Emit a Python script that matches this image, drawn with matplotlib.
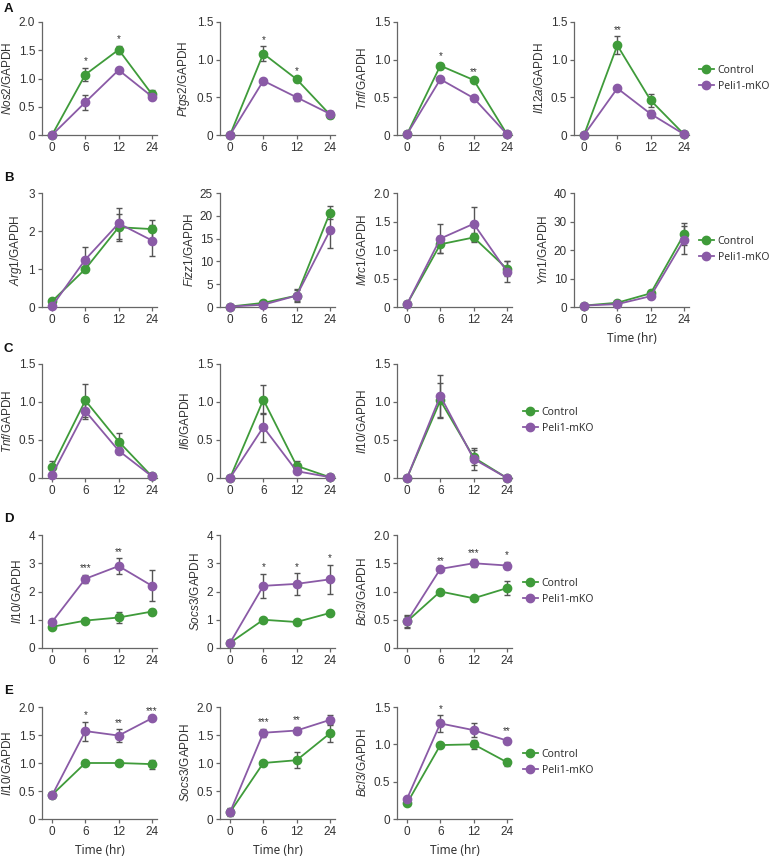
import matplotlib
matplotlib.use('Agg')
import matplotlib.pyplot as plt
from matplotlib.lines import Line2D
from matplotlib.ticker import FixedLocator, FuncFormatter

plt.rcParams['font.family'] = ['Liberation Sans', 'DejaVu Sans']
plt.rcParams['mathtext.fontset'] = 'custom'
plt.rcParams['mathtext.it'] = 'Liberation Sans:italic'
plt.rcParams['mathtext.rm'] = 'Liberation Sans'

# ---------------- data ----------------
times = ['0', '6', '12', '24']
series_names = ['Control', 'Peli1-mKO']
panel_letters = ['A', 'B', 'C', 'D', 'E']

# Row A
nos2_ctrl = [0.0, 1.07, 1.51, 0.72]; nos2_ctrl_err = [0, 0.12, 0.07, 0.07]
nos2_ko = [0.0, 0.58, 1.15, 0.68]; nos2_ko_err = [0, 0.13, 0.02, 0.05]
nos2_stars = {1: '*', 2: '*'}

ptgs2_ctrl = [0.0, 1.08, 0.74, 0.27]; ptgs2_ctrl_err = [0, 0.10, 0.03, 0.05]
ptgs2_ko = [0.0, 0.72, 0.50, 0.28]; ptgs2_ko_err = [0, 0.02, 0.05, 0.04]
ptgs2_stars = {1: '*', 2: '*'}

tnfA_ctrl = [0.01, 0.92, 0.73, 0.01]; tnfA_ctrl_err = [0, 0.04, 0.02, 0]
tnfA_ko = [0.01, 0.74, 0.49, 0.01]; tnfA_ko_err = [0, 0.02, 0.03, 0]
tnfA_stars = {1: '*', 2: '**'}

il12a_ctrl = [0.0, 1.19, 0.46, 0.01]; il12a_ctrl_err = [0, 0.12, 0.09, 0]
il12a_ko = [0.0, 0.62, 0.28, 0.01]; il12a_ko_err = [0, 0.02, 0.05, 0]
il12a_stars = {1: '**'}

# Row B
arg1_ctrl = [0.15, 1.0, 2.1, 2.05]; arg1_ctrl_err = [0.02, 0.05, 0.35, 0.25]
arg1_ko = [0.02, 1.25, 2.2, 1.75]; arg1_ko_err = [0, 0.32, 0.40, 0.40]

fizz1_ctrl = [0.1, 0.9, 2.5, 20.7]; fizz1_ctrl_err = [0, 0.3, 1.5, 1.5]
fizz1_ko = [0.1, 0.5, 2.5, 16.8]; fizz1_ko_err = [0, 0.3, 1.2, 3.9]

mrc1_ctrl = [0.05, 1.10, 1.22, 0.67]; mrc1_ctrl_err = [0, 0.15, 0.08, 0.13]
mrc1_ko = [0.05, 1.20, 1.46, 0.62]; mrc1_ko_err = [0, 0.25, 0.30, 0.18]

ym1_ctrl = [0.5, 1.5, 4.8, 25.5]; ym1_ctrl_err = [0, 0.5, 1.2, 3.8]
ym1_ko = [0.5, 1.0, 3.8, 23.5]; ym1_ko_err = [0, 0.4, 0.5, 5.0]

# Row C
tnfC_ctrl = [0.14, 1.02, 0.48, 0.02]; tnfC_ctrl_err = [0.09, 0.22, 0.11, 0]
tnfC_ko = [0.04, 0.88, 0.36, 0.02]; tnfC_ko_err = [0.02, 0.10, 0.05, 0]

il6_ctrl = [0.0, 1.03, 0.16, 0.01]; il6_ctrl_err = [0, 0.19, 0.06, 0]
il6_ko = [0.0, 0.67, 0.09, 0.01]; il6_ko_err = [0, 0.19, 0.02, 0]

il10C_ctrl = [0.0, 1.02, 0.27, 0.0]; il10C_ctrl_err = [0, 0.23, 0.10, 0]
il10C_ko = [0.0, 1.08, 0.25, 0.0]; il10C_ko_err = [0, 0.28, 0.14, 0]

# Row D
il10D_ctrl = [0.75, 0.97, 1.08, 1.29]; il10D_ctrl_err = [0.05, 0.05, 0.20, 0.10]
il10D_ko = [0.92, 2.45, 2.90, 2.20]; il10D_ko_err = [0.10, 0.15, 0.28, 0.55]
il10D_stars = {1: '***', 2: '**'}

socs3D_ctrl = [0.18, 1.0, 0.92, 1.24]; socs3D_ctrl_err = [0, 0.03, 0.03, 0.03]
socs3D_ko = [0.18, 2.20, 2.27, 2.43]; socs3D_ko_err = [0.05, 0.43, 0.38, 0.52]
socs3D_stars = {1: '*', 2: '*', 3: '*'}

bcl3D_ctrl = [0.47, 1.0, 0.88, 1.06]; bcl3D_ctrl_err = [0.10, 0.02, 0.02, 0.13]
bcl3D_ko = [0.47, 1.40, 1.50, 1.46]; bcl3D_ko_err = [0.12, 0.02, 0.07, 0.07]
bcl3D_stars = {1: '**', 2: '***', 3: '*'}

# Row E
il10E_ctrl = [0.43, 1.0, 1.0, 0.98]; il10E_ctrl_err = [0.05, 0.02, 0.02, 0.08]
il10E_ko = [0.42, 1.57, 1.49, 1.80]; il10E_ko_err = [0.03, 0.17, 0.11, 0.02]
il10E_stars = {1: '*', 2: '**', 3: '***'}

socs3E_ctrl = [0.12, 1.0, 1.05, 1.53]; socs3E_ctrl_err = [0.07, 0.02, 0.14, 0.15]
socs3E_ko = [0.12, 1.54, 1.58, 1.77]; socs3E_ko_err = [0.05, 0.07, 0.07, 0.08]
socs3E_stars = {1: '***', 2: '**'}

bcl3E_ctrl = [0.21, 0.99, 1.0, 0.76]; bcl3E_ctrl_err = [0, 0.02, 0.06, 0.05]
bcl3E_ko = [0.27, 1.28, 1.19, 1.05]; bcl3E_ko_err = [0, 0.11, 0.09, 0.04]
bcl3E_stars = {1: '*', 3: '**'}

# (row, col, gene, ctrl, ctrl_err, ko, ko_err, ymax, ystep, stars)
panels = [
    (0, 0, 'Nos2', nos2_ctrl, nos2_ctrl_err, nos2_ko, nos2_ko_err, 2.0, 0.5, nos2_stars),
    (0, 1, 'Ptgs2', ptgs2_ctrl, ptgs2_ctrl_err, ptgs2_ko, ptgs2_ko_err, 1.5, 0.5, ptgs2_stars),
    (0, 2, 'Tnf', tnfA_ctrl, tnfA_ctrl_err, tnfA_ko, tnfA_ko_err, 1.5, 0.5, tnfA_stars),
    (0, 3, 'Il12a', il12a_ctrl, il12a_ctrl_err, il12a_ko, il12a_ko_err, 1.5, 0.5, il12a_stars),
    (1, 0, 'Arg1', arg1_ctrl, arg1_ctrl_err, arg1_ko, arg1_ko_err, 3, 1, {}),
    (1, 1, 'Fizz1', fizz1_ctrl, fizz1_ctrl_err, fizz1_ko, fizz1_ko_err, 25, 5, {}),
    (1, 2, 'Mrc1', mrc1_ctrl, mrc1_ctrl_err, mrc1_ko, mrc1_ko_err, 2.0, 0.5, {}),
    (1, 3, 'Ym1', ym1_ctrl, ym1_ctrl_err, ym1_ko, ym1_ko_err, 40, 10, {}),
    (2, 0, 'Tnf', tnfC_ctrl, tnfC_ctrl_err, tnfC_ko, tnfC_ko_err, 1.5, 0.5, {}),
    (2, 1, 'Il6', il6_ctrl, il6_ctrl_err, il6_ko, il6_ko_err, 1.5, 0.5, {}),
    (2, 2, 'Il10', il10C_ctrl, il10C_ctrl_err, il10C_ko, il10C_ko_err, 1.5, 0.5, {}),
    (3, 0, 'Il10', il10D_ctrl, il10D_ctrl_err, il10D_ko, il10D_ko_err, 4, 1, il10D_stars),
    (3, 1, 'Socs3', socs3D_ctrl, socs3D_ctrl_err, socs3D_ko, socs3D_ko_err, 4, 1, socs3D_stars),
    (3, 2, 'Bcl3', bcl3D_ctrl, bcl3D_ctrl_err, bcl3D_ko, bcl3D_ko_err, 2.0, 0.5, bcl3D_stars),
    (4, 0, 'Il10', il10E_ctrl, il10E_ctrl_err, il10E_ko, il10E_ko_err, 2.0, 0.5, il10E_stars),
    (4, 1, 'Socs3', socs3E_ctrl, socs3E_ctrl_err, socs3E_ko, socs3E_ko_err, 2.0, 0.5, socs3E_stars),
    (4, 2, 'Bcl3', bcl3E_ctrl, bcl3E_ctrl_err, bcl3E_ko, bcl3E_ko_err, 1.5, 0.5, bcl3E_stars),
]
xlabel_panels = [(1, 3), (4, 0), (4, 1), (4, 2)]

# ---------------- style / layout ----------------
W, H = 771, 859
GREEN = '#3f9b3a'
PURPLE = '#8a5aa6'
AXC = '#666666'
TXC = '#333333'
ERRC = '#555555'

col_left = [42, 220, 397, 574]
ax_w = 115
row_top = [22, 193, 364, 535, 707]
row_bot = [135, 307, 478, 648, 819]
legend_pos = [(699, 78.5), (699, 249.5), (523, 420.5), (523, 591.5), (523, 762.5)]
letter_y = [9, 178, 349, 519, 691]

fig = plt.figure(figsize=(W / 100, H / 100), dpi=100)


def fmt_factory(step):
    def f(v, pos):
        if abs(v) < 1e-9:
            return '0'
        if step < 1:
            return f'{v:.1f}'
        return f'{int(round(v))}'
    return f


xs = list(range(len(times)))

for (r, c, gene, ctrl, ctrl_err, ko, ko_err, ymax, ystep, stars) in panels:
    left = col_left[c]
    ax = fig.add_axes([left / W, 1 - row_bot[r] / H, ax_w / W, (row_bot[r] - row_top[r]) / H])
    for vals, errs, col in [(ctrl, ctrl_err, GREEN), (ko, ko_err, PURPLE)]:
        ax.errorbar(xs, vals, yerr=errs, fmt='none', ecolor=ERRC, elinewidth=1.0,
                    capsize=2.5, capthick=1.0, zorder=2)
        ax.plot(xs, vals, '-', color=col, lw=1.3, marker='o', markersize=6,
                markerfacecolor=col, markeredgecolor=col, zorder=3, clip_on=False)
    for i, s in stars.items():
        top = max(ctrl[i] + ctrl_err[i], ko[i] + ko_err[i])
        ax.annotate(s, (xs[i], top), xytext=(0, 1), textcoords='offset points',
                    ha='center', va='bottom', fontsize=7, color=TXC)
    ax.set_xlim(-0.3, 3.15)
    ax.set_ylim(0, ymax)
    nt = int(round(ymax / ystep))
    ax.yaxis.set_major_locator(FixedLocator([k * ystep for k in range(nt + 1)]))
    ax.yaxis.set_major_formatter(FuncFormatter(fmt_factory(ystep)))
    ax.set_xticks(xs)
    ax.set_xticklabels(times)
    for sp in ['top', 'right']:
        ax.spines[sp].set_visible(False)
    for sp in ['left', 'bottom']:
        ax.spines[sp].set_color(AXC)
        ax.spines[sp].set_linewidth(0.9)
    ax.tick_params(axis='both', colors=AXC, labelcolor=TXC, labelsize=8.5,
                   length=3, width=0.9, direction='out', pad=2)
    ax.set_ylabel(r'$\mathit{' + gene + r'}$/GAPDH', fontsize=8.5, color=TXC, labelpad=3)
    if (r, c) in xlabel_panels:
        ax.set_xlabel('Time (hr)', fontsize=8.5, color=TXC, family='Noto Sans', labelpad=4)

for r, letter in enumerate(panel_letters):
    fig.text(4 / W, 1 - letter_y[r] / H, letter, fontsize=9.5, fontweight='bold',
             color='#111111', ha='left', va='center', family='Liberation Sans')

handles = [Line2D([0], [0], color=GREEN, lw=1.3, marker='o', markersize=6),
           Line2D([0], [0], color=PURPLE, lw=1.3, marker='o', markersize=6)]
for (lx, ly) in legend_pos:
    leg = fig.legend(handles, series_names, loc='center left',
                     bbox_to_anchor=(lx / W, 1 - ly / H), frameon=False,
                     borderpad=0, borderaxespad=0, handlelength=1.4,
                     handletextpad=0.4, labelspacing=0.5,
                     prop={'family': 'Noto Sans', 'size': 7.5})
    for t in leg.get_texts():
        t.set_color(TXC)

fig.savefig('out.png', dpi=100)
